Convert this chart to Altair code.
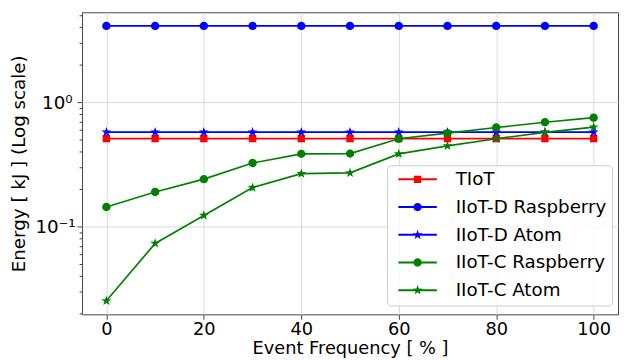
import math
import altair as alt
import pandas as pd

# ---------------- data ----------------
event_freq = [0, 10, 20, 30, 40, 50, 60, 70, 80, 90, 100]
tiot = [0.511, 0.511, 0.511, 0.511, 0.511, 0.511, 0.511, 0.511, 0.511, 0.511, 0.511]
iiotd_rasp = [4.12, 4.12, 4.12, 4.12, 4.12, 4.12, 4.12, 4.12, 4.12, 4.12, 4.12]
iiotd_atom = [0.575, 0.575, 0.575, 0.575, 0.575, 0.575, 0.575, 0.575, 0.575, 0.575, 0.575]
iiotc_rasp = [0.144, 0.190, 0.241, 0.325, 0.385, 0.387, 0.509, 0.565, 0.627, 0.691, 0.752]
iiotc_atom = [0.0253, 0.0733, 0.123, 0.206, 0.267, 0.271, 0.385, 0.446, 0.509, 0.573, 0.631]

series_names = ["TIoT", "IIoT-D Raspberry", "IIoT-D Atom", "IIoT-C Raspberry", "IIoT-C Atom"]
series_values = [tiot, iiotd_rasp, iiotd_atom, iiotc_rasp, iiotc_atom]

x_ticks = [0, 20, 40, 60, 80, 100]
y_ticks = [0.02, 0.03, 0.04, 0.05, 0.06, 0.07, 0.08, 0.09, 0.1,
           0.2, 0.3, 0.4, 0.5, 0.6, 0.7, 0.8, 0.9, 1,
           2, 3, 4, 5]

# ---------------- styles ----------------
series_colors = ["#ff0000", "#0000ff", "#0000ff", "#008000", "#008000"]


def star_path(R=1.05, r=0.42):
    pts = []
    for k in range(10):
        th = math.radians(-90 + 36 * k)
        rad = R if k % 2 == 0 else r
        pts.append(f"{rad*math.cos(th):.3f},{rad*math.sin(th):.3f}")
    return "M" + "L".join(pts) + "Z"


SQUARE = "M-0.75,-0.75H0.75V0.75H-0.75Z"
CIRCLE = "M0.85,0A0.85,0.85,0,1,1,-0.85,0A0.85,0.85,0,1,1,0.85,0Z"
STAR = star_path()
LINE = "M-3.9,-0.2H3.9V0.2H-3.9Z"

marker_paths = [SQUARE, CIRCLE, STAR, CIRCLE, STAR]
legend_paths = [LINE + m for m in marker_paths]

rows = []
for name, vals, col, mk in zip(series_names, series_values, series_colors, marker_paths):
    for xv, yv in zip(event_freq, vals):
        rows.append({"x": xv, "y": yv, "series": name, "color": col, "mshape": mk})
df = pd.DataFrame(rows)

FONT = "DejaVu Sans"
FS = 18.5
major = "abs(log(datum.value)/LN10 - round(log(datum.value)/LN10)) < 1e-6"

x_enc = alt.X(
    "x:Q",
    scale=alt.Scale(domain=[-5, 105], nice=False, zero=False),
    axis=alt.Axis(
        values=x_ticks, title="Event Frequency [ % ]", tickSize=5, labelPadding=1,
        labelFlush=False, titleY=40, titleBaseline="alphabetic",
        labelFontSize=18, titleFontSize=18,
    ),
)
y_enc = alt.Y(
    "y:Q",
    scale=alt.Scale(type="log", domain=[0.0197, 5.3], nice=False),
    axis=alt.Axis(
        values=y_ticks,
        labelExpr="datum.value == 1 ? '10⁰' : (abs(datum.value - 0.1) < 1e-9 ? '10⁻¹' : '')",
        tickSize={"condition": {"test": major, "value": 5}, "value": 3},
        gridOpacity={"condition": {"test": major, "value": 1}, "value": 0},
        labelPadding={"condition": {"test": "datum.value == 1", "value": 5}, "value": 2},
        labelOverlap=False, labelFlush=False,
        title="Energy [ kJ ] (Log scale)",
        titleX=-58, titleY=153, titleAngle=270, titleBaseline="alphabetic", titleAlign="center",
    ),
)

lines = alt.Chart(df).mark_line(strokeWidth=1.7).encode(
    x=x_enc, y=y_enc, detail="series:N",
    color=alt.Color("color:N", scale=None),
)
points = alt.Chart(df).mark_point(filled=True, size=100, opacity=1, strokeWidth=0).encode(
    x=x_enc, y=y_enc,
    color=alt.Color("color:N", scale=None),
    shape=alt.Shape("mshape:N", scale=None),
)

leg = alt.Legend(
    title=None, orient="none", legendX=309, legendY=155, padding=5,
    symbolOffset=16.7, labelOffset=29.3, rowPadding=9.1,
    labelFontSize=FS, labelFont=FONT, labelColor="black", labelLimit=0,
    fillColor="rgba(255,255,255,0.8)", strokeColor="#cccccc", cornerRadius=4,
    symbolStrokeWidth=0, symbolSize=100, symbolOpacity=1,
)
legend_layer = alt.Chart(df).transform_filter("false").mark_point(
    filled=True, size=100, opacity=1, strokeWidth=0
).encode(
    color=alt.Color("series:N", scale=alt.Scale(domain=series_names, range=series_colors), legend=leg),
    shape=alt.Shape("series:N", scale=alt.Scale(domain=series_names, range=legend_paths), legend=leg),
)

chart = (
    alt.layer(lines, points, legend_layer)
    .resolve_scale(shape="independent", color="independent")
    .properties(
        width=543, height=306,
        autosize=alt.AutoSizeParams(type="none"),
        padding={"left": 75, "top": 2, "right": 2, "bottom": 50},
    )
    .configure(font=FONT)
    .configure_view(stroke="#444444", strokeWidth=1)
    .configure_axis(
        domain=False, grid=True, gridColor="#d9d9d9", gridWidth=1,
        tickColor="#444444", tickWidth=1,
        labelFont=FONT, labelFontSize=FS, labelColor="black",
        titleFont=FONT, titleFontSize=FS, titleFontWeight="normal", titleColor="black",
    )
)

chart.save("out.html", embed_options={"renderer": "svg", "actions": False})
